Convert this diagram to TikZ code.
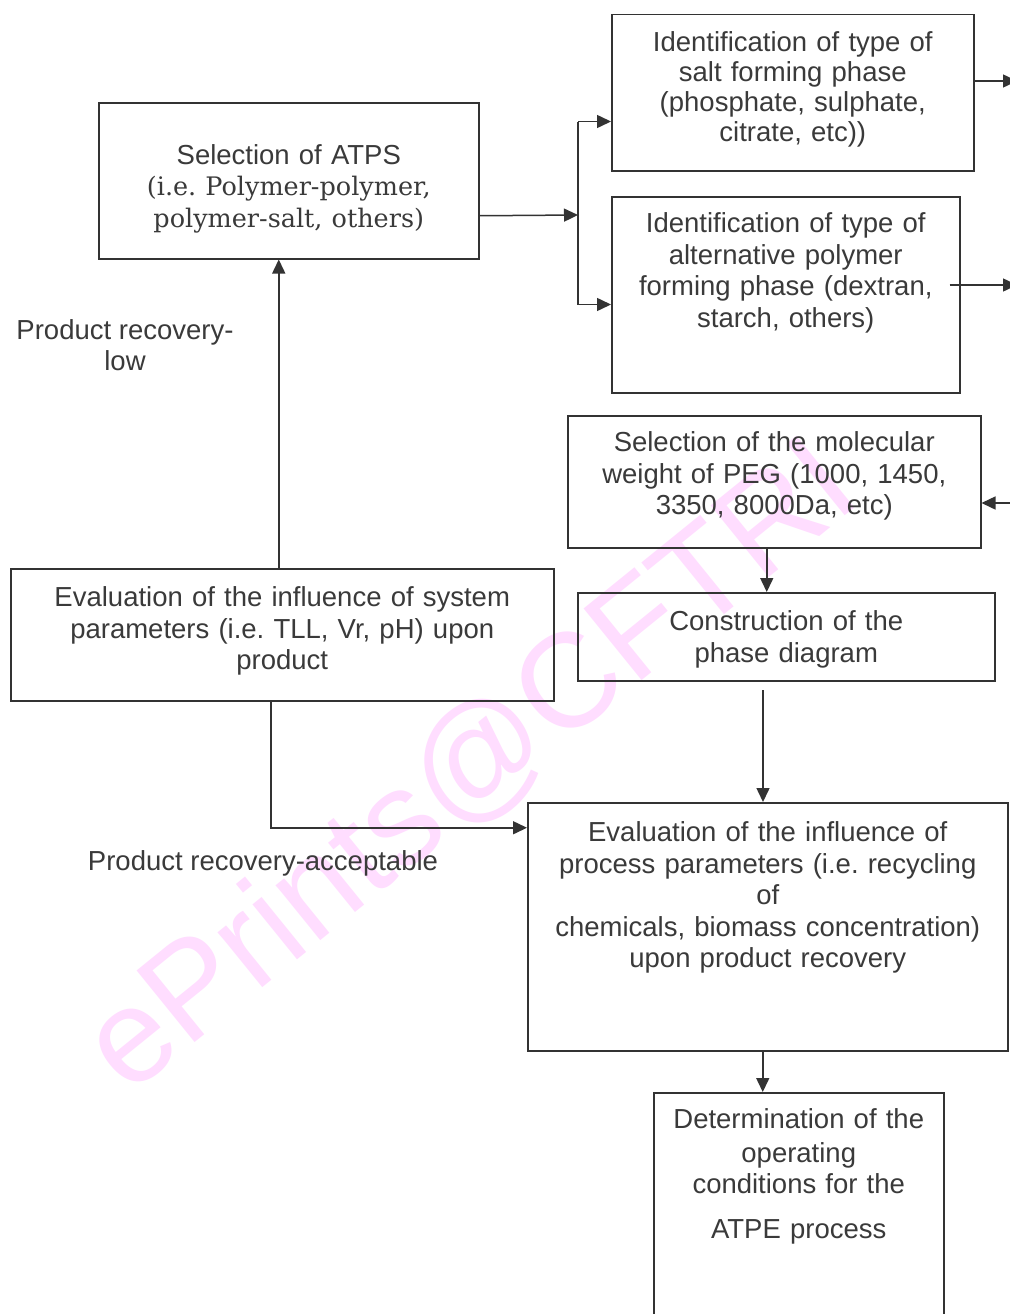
\documentclass[tikz,border=0pt]{standalone}
\usepackage{fontspec}
\setmainfont{Liberation Sans}
\newfontfamily\atpsserif{DejaVu Serif}
\usetikzlibrary{positioning, arrows.meta}
\definecolor{linegray}{HTML}{333333}
\definecolor{textgray}{HTML}{3A3A3A}
\definecolor{markpink}{HTML}{FFDDFF}
\frenchspacing

\begin{document}
\begin{tikzpicture}[
        x=1pt, y=-1pt,
        block/.style={rectangle, draw=linegray, line width=1.5pt, inner sep=0pt, anchor=north west,
            align=center, text=textgray, font=\fontsize{27.5}{31.5}\selectfont},
        note/.style={align=center, text=textgray, font=\fontsize{27.5}{31.5}\selectfont},
        link/.style={draw=linegray, line width=1.5pt},
        arr/.style={link, -{Triangle[length=14pt,width=13pt]}}
    ]
    \useasboundingbox[fill=white] (0,0) rectangle (1009,1314);

    % watermark
    \node[rotate=39, text=markpink, font=\fontsize{134}{140}\selectfont] (mark) at (472,768) {ePrints@CFTRI};

    \node[block, text width=380pt, text height=62pt, text depth=94pt] (selatps) at (98,102)
        {Selection of ATPS\\ {\atpsserif\fontsize{25.5}{31}\selectfont (i.e. Polymer-polymer,\\ polymer-salt, others)}};
    \node[block, text width=362pt, text height=37pt, text depth=119pt] (saltphase) at (611,14)
        {Identification of type of\\[-1.5pt] salt forming phase\\[-1.5pt] (phosphate, sulphate,\\[-1.5pt] citrate, etc))};
    \node[block, text width=348pt, text height=36pt, text depth=160pt] (polyphase) at (611,196)
        {Identification of type of\\ alternative polymer\\ forming phase (dextran,\\ starch, others)};
    \node[block, text width=413pt, text height=36pt, text depth=96pt] (pegweight) at (567,415)
        {Selection of the molecular\\ weight of PEG (1000, 1450,\\ 3350, 8000Da, etc)};
    \node[block, text width=417pt, text height=38pt, text depth=50pt] (phasediag) at (577,592)
        {Construction of the\\ phase diagram};
    \node[block, text width=543pt, text height=38pt, text depth=94pt] (sysparam) at (10,568)
        {Evaluation of the influence of system\\ parameters (i.e. TLL, Vr, pH) upon\\ product};
    \node[block, text width=480pt, text height=39pt, text depth=209pt] (procparam) at (527,802)
        {Evaluation of the influence of\\ process parameters (i.e. recycling\\ of\\ chemicals, biomass concentration)\\ upon product recovery};
    \node[block, text width=290pt, text height=36pt, text depth=202pt] (opcond) at (653,1092)
        {Determination of the\\[2pt] operating\\ conditions for the\\[13pt] ATPE process};

    \node[note] (lowlab) at (125,345) {Product recovery-\\ low};
    \node[note] (acclab) at (263,863) {Product recovery-acceptable};

    % branch to the two phase boxes
    \coordinate (split) at (578,215);
    \path ([yshift=50pt]saltphase.south west) coordinate (saltin)
          ([yshift=89pt]polyphase.south west) coordinate (polyin);
    \draw[arr] ([yshift=-35pt]selatps.east) -- (split);
    \draw[link] (split |- saltin) -- (split |- polyin);
    \draw[arr] (split |- saltin) -- (saltin);
    \draw[arr] (split |- polyin) -- (polyin);

    % loose ends at the right margin
    \coordinate (saltout) at (1017,81);
    \coordinate (polyout) at (1017,285);
    \coordinate (pegin) at (1016,503);
    \draw[arr] (saltphase.east |- saltout) -- (saltout);
    \draw[arr] ([xshift=-11pt]polyphase.east |- polyout) -- (polyout);
    \draw[arr] (pegin) -- (pegweight.east |- pegin);

    \draw[arr] ([xshift=-7.5pt]pegweight.south) -- ([xshift=-19.5pt]phasediag.north);
    \coordinate (diagout) at (763,690);
    \draw[arr] (diagout) -- (diagout |- procparam.north);
    \draw[arr] ([xshift=-3.5pt]sysparam.north) -- ([xshift=-10pt]selatps.south);
    \draw[arr] ([xshift=-11.5pt]sysparam.south) |- ([yshift=99pt]procparam.west);
    \draw[arr] ([xshift=-5pt]procparam.south) -- ([xshift=-36pt]opcond.north);

\end{tikzpicture}
\end{document}
